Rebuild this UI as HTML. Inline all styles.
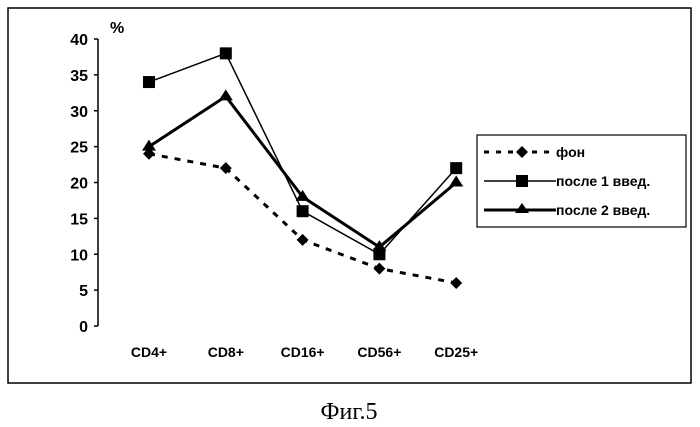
<!DOCTYPE html>
<html><head><meta charset="utf-8"><style>
body{margin:0;background:#fff;}
svg{display:block;font-family:"Liberation Sans",Arial,sans-serif;}
</style></head><body>
<svg width="700" height="427" viewBox="0 0 700 427">
<rect x="8" y="8" width="683" height="375" fill="#fff" stroke="#000" stroke-width="1.5"/>
<g id="axes"></g>
<g id="series"></g>
<text x="110" y="33" font-size="16" font-weight="bold">%</text>
<g>
<rect x="477" y="135" width="209" height="92" fill="#fff" stroke="#000" stroke-width="1.2"/>
<g>
<line x1="484" y1="152" x2="552" y2="152" stroke="#000" stroke-width="3" stroke-dasharray="5,7"/>
<path d="M522 146 L528 152 L522 158 L516 152Z" fill="#000"/>
<text x="556" y="157" font-size="14" font-weight="bold">фон</text></g>
<g>
<line x1="484" y1="181" x2="556" y2="181" stroke="#000" stroke-width="1.5"/>
<rect x="516" y="175" width="12" height="12" fill="#000"/>
<text x="556" y="186" font-size="14" font-weight="bold">после 1 введ.</text></g>
<g>
<line x1="484" y1="210" x2="556" y2="210" stroke="#000" stroke-width="3"/>
<path d="M522 203 L529 213 L515 213Z" fill="#000"/>
<text x="556" y="215" font-size="14" font-weight="bold">после 2 введ.</text></g>
</g>
<text x="349" y="419" font-size="24" font-family="Liberation Serif,serif" text-anchor="middle">Фиг.5</text>
</svg>
<script>
const categories=["CD4+","CD8+","CD16+","CD56+","CD25+"];
const fon=[24,22,12,8,6];
const posle1=[34,38,16,10,22];
const posle2=[25,32,18,11,20];
const yTicks=[0,5,10,15,20,25,30,35,40];
const NS="http://www.w3.org/2000/svg";
function x(i){return 149+i*76.8;}
function y(v){return 326-v*7.175;}
function mk(t,a,p){const e=document.createElementNS(NS,t);for(const k in a)e.setAttribute(k,a[k]);p.appendChild(e);return e;}
const ax=document.getElementById('axes');
let l=mk('line',{x1:98,y1:y(40),x2:98,y2:326,stroke:'#000','stroke-width':1.5},ax);


yTicks.forEach(v=>{
 mk('line',{x1:94,y1:y(v),x2:98,y2:y(v),stroke:'#000','stroke-width':1.5},ax);
 const t=mk('text',{x:88,y:y(v)+6,'font-size':16,'font-weight':'bold','text-anchor':'end'},ax);
 t.textContent=v;
 
 
});
categories.forEach((c,i)=>{
 const t=mk('text',{x:x(i),y:357,'font-size':14,'font-weight':'bold','text-anchor':'middle'},ax);
 t.textContent=c;
 
 
});
const sg=document.getElementById('series');
function series(vals,name,w,dash,marker){
 const g=mk('g',{},sg);
 
 
 mk('polyline',{points:vals.map((v,i)=>x(i)+','+y(v)).join(' '),fill:'none',stroke:'#000','stroke-width':w,'stroke-dasharray':dash},g);
 vals.forEach((v,i)=>{
  const X=x(i),Y=y(v);let m;
  if(marker==='d')m=mk('path',{d:`M${X} ${Y-6}L${X+6} ${Y}L${X} ${Y+6}L${X-6} ${Y}Z`,fill:'#000'},g);
  else if(marker==='s')m=mk('rect',{x:X-6,y:Y-6,width:12,height:12,fill:'#000'},g);
  else m=mk('path',{d:`M${X} ${Y-7}L${X+7} ${Y+4}L${X-7} ${Y+4}Z`,fill:'#000'},g);
  
  
 });
}
series(fon,'series-fon',3,'6,7','d');
series(posle1,'series-posle-1',1.5,'','s');
series(posle2,'series-posle-2',3,'','t');
</script>
</body></html>
